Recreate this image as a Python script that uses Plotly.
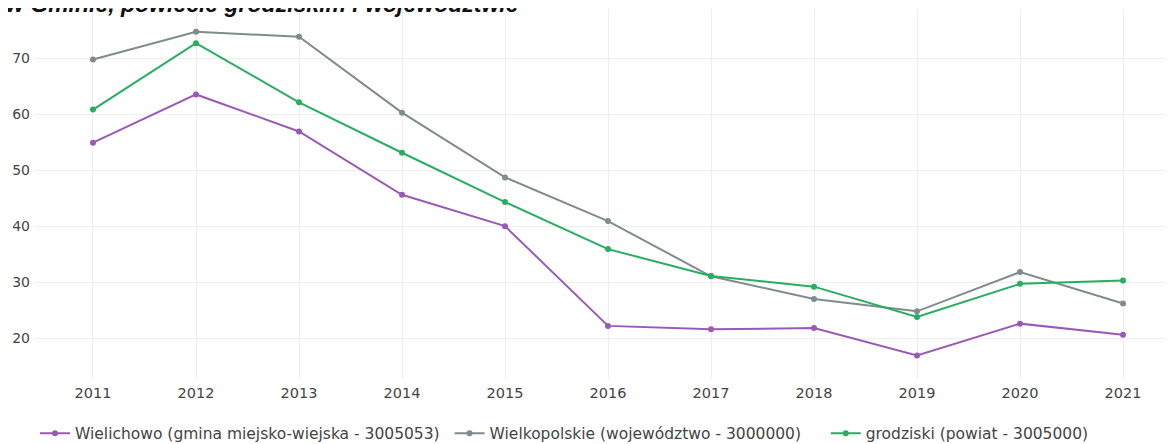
import plotly.graph_objects as go

years = [2011, 2012, 2013, 2014, 2015, 2016, 2017, 2018, 2019, 2020, 2021]
wielichowo = [54.9, 63.5, 56.9, 45.6, 40.0, 22.2, 21.6, 21.8, 16.9, 22.6, 20.6]
wielkopolskie = [69.75, 74.7, 73.8, 60.25, 48.7, 40.9, 31.05, 27.0, 24.8, 31.8, 26.2]
grodziski = [60.8, 72.65, 62.1, 53.1, 44.3, 35.9, 31.1, 29.2, 23.8, 29.7, 30.3]

names = [
    "Wielichowo (gmina miejsko-wiejska - 3005053)",
    "Wielkopolskie (województwo - 3000000)",
    "grodziski (powiat - 3005000)",
]
# invisible trailing padding so legend entries sit where the reference has them
legend_pad = ["\u00a0", "\u00a0\u00a0\u00a0\u00a0", ""]
colors = ["#9b59b6", "#7f8c8d", "#27ae60"]
series = [wielichowo, wielkopolskie, grodziski]

title_text = "w Gminie, powiecie grodziskim i województwie"

fig = go.Figure()
for name, pad, vals, col in zip(names, legend_pad, series, colors):
    fig.add_trace(go.Scatter(
        x=years, y=vals, name=name + pad, mode="lines+markers",
        line=dict(color=col, width=2),
        marker=dict(color=col, size=6),
    ))

PLOT_H = 372
fig.update_layout(
    width=1173, height=444,
    margin=dict(l=27, r=11, t=1, b=71),
    paper_bgcolor="white", plot_bgcolor="white",
    font=dict(family="DejaVu Sans", color="#444", size=14),
    showlegend=True,
    legend=dict(orientation="h", x=0, xanchor="left", y=-55 / PLOT_H, yanchor="middle",
                font=dict(size=15.5, color="#444")),
    xaxis=dict(range=[2010.437, 2021.456], tickvals=years, ticktext=[str(y) for y in years],
               showgrid=True, gridcolor="#eeeeee", zeroline=False, showline=False,
               ticklabelstandoff=3,
               tickfont=dict(size=14.5, color="#444")),
    yaxis=dict(range=[12.72, 78.75], tickvals=[20, 30, 40, 50, 60, 70],
               showgrid=True, gridcolor="#eeeeee", zeroline=False, showline=False,
               ticklabelstandoff=4,
               tickfont=dict(size=14, color="#444")),
    annotations=[dict(
        text="<b><i>" + title_text + "</i></b>",
        xref="paper", yref="paper", x=-31 / 1135, xanchor="left",
        y=1 + 5 / PLOT_H, yanchor="middle", showarrow=False,
        font=dict(family="Liberation Sans", size=23, color="#111"),
    )],
)

fig.write_html("out.html")
